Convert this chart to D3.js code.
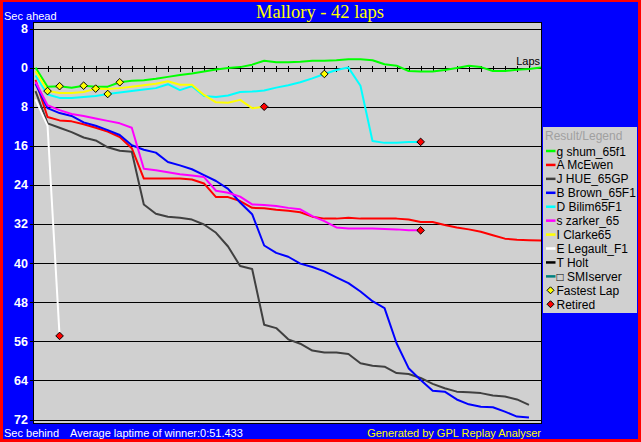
<!DOCTYPE html>
<html>
<head>
<meta charset="utf-8">
<script src="https://cdn.jsdelivr.net/npm/d3@7/dist/d3.min.js"></script>
<style>
  html, body { margin: 0; padding: 0; background: #ff0000; }
  svg { display: block; }
  text { font-family: "Liberation Sans", Arial, sans-serif; }
</style>
</head>
<body>
<svg id="chart" width="641" height="442"></svg>
<script>
// ---------- DATA ----------
const title = "Mallory - 42 laps";
const totalLaps = 42;
const yTickValues = [-8, 0, 8, 16, 24, 32, 40, 48, 56, 64, 72];
const yTickLabels = ["8", "0", "8", "16", "24", "32", "40", "48", "56", "64", "72"];

const drivers = ["g shum_65f1", "A McEwen", "J HUE_65GP", "B Brown_65F1", "D Bilim65F1",
                 "s zarker_65", "I Clarke65", "E Legault_F1", "T Holt", "\u25A1 SMIserver"];
const driverColors = ["#00ff00", "#ff0000", "#404040", "#0000ff", "#00ffff",
                      "#ff00ff", "#ffff00", "#ffffff", "#000000", "#008080"];

// seconds behind (positive = behind), one value per lap starting at lap 0
const gShum = [0, 3.9, 3.8, 4.1, 3.7, 3.9, 3.9, 3.0, 2.7, 2.6, 2.3, 1.9, 1.5, 1.2, 0.8, 0.4, 0.1, -0.1, -0.6, -1.4,
               -1.1, -1.1, -1.2, -1.4, -1.4, -1.5, -1.7, -1.7, -1.5, -0.7, -0.4, 0.7, 0.8, 0.8, 0.5, 0.1, -0.4, -0.1,
               0.7, 0.7, 0.45, 0.3, 0];
const aMcEwen = [2.5, 10.1, 10.8, 11.0, 11.6, 12.3, 13.1, 14.2, 16.5, 22.7, 22.7, 22.7, 22.7, 22.9, 23.7, 26.5, 26.5,
                 27.3, 28.7, 28.8, 29.1, 29.3, 29.6, 30.5, 30.9, 30.9, 30.7, 30.9, 30.9, 30.9, 30.9, 31.1, 31.6, 31.6,
                 32.2, 32.7, 33.1, 33.6, 34.3, 35.0, 35.2, 35.3, 35.4];
const jHue = [4.8, 11.4, 12.3, 13.2, 14.3, 14.9, 16.3, 17.0, 17.2, 28.0, 29.9, 30.5, 30.7, 31.1, 32.1, 33.8, 36.6,
              40.6, 41.2, 52.6, 53.3, 55.6, 56.5, 57.9, 58.3, 58.3, 58.6, 60.5, 61.0, 61.2, 62.5, 62.7, 63.5, 64.7,
              65.6, 66.3, 66.4, 66.6, 67.1, 67.3, 67.9, 69.0];
const bBrown = [3.3, 8.3, 9.3, 9.9, 11.2, 11.9, 12.8, 13.8, 15.9, 16.8, 17.4, 19.3, 20.0, 20.8, 22.0, 23.2, 24.8,
                27.6, 30.0, 36.4, 37.9, 38.7, 40.1, 40.8, 41.7, 42.9, 44.1, 45.8, 47.8, 49.2, 56.4, 61.5, 63.9, 66.1,
                66.3, 67.9, 68.9, 69.4, 69.5, 70.4, 71.4, 71.6];
const dBilim = [1.6, 5.5, 6.2, 6.2, 6.0, 5.8, 5.4, 5.1, 4.8, 4.5, 4.2, 3.4, 4.6, 3.8, 5.8, 6.0, 5.7, 5.0, 4.9, 4.7,
                4.1, 3.6, 3.0, 2.2, 1.3, 0.5, 0.0, 3.7, 15.0, 15.4, 15.4, 15.2, 15.2];
const sZarker = [2.9, 7.7, 8.7, 9.5, 9.9, 10.4, 10.9, 11.4, 12.3, 20.7, 21.0, 21.4, 21.8, 22.1, 22.4, 25.2, 25.6,
                 26.4, 28.0, 28.1, 28.3, 28.7, 29.0, 30.4, 31.4, 32.7, 32.9, 32.9, 32.9, 33.0, 33.1, 33.3, 33.3];
const iClarke = [0.7, 4.8, 5.2, 5.2, 5.0, 4.3, 4.4, 4.2, 3.9, 3.6, 3.3, 2.8, 3.5, 3.5, 5.6, 7.1, 7.2, 6.6, 8.3, 8.0];
const eLegault = [6.5, 11.9, 54.9];
const tHolt = [];
const smiServer = [];

const seriesValues = [gShum, aMcEwen, jHue, bBrown, dBilim, sZarker, iClarke, eLegault, tHolt, smiServer];

const fastestLapDrivers = ["I Clarke65", "g shum_65f1", "g shum_65f1", "I Clarke65", "D Bilim65F1", "g shum_65f1", "D Bilim65F1"];
const fastestLapLaps = [1, 2, 4, 5, 6, 7, 24];
const retiredDrivers = ["I Clarke65", "D Bilim65F1", "s zarker_65", "E Legault_F1"];

const bottomLeft1 = "Sec behind";
const bottomLeft2 = "Average laptime of winner:0:51.433";
const bottomRight = "Generated by GPL Replay Analyser";

// ---------- DRAW ----------
const svg = d3.select("#chart");
const W = 641, H = 442;
const plot = { left: 34, top: 22, right: 541, bottom: 423 };

svg.append("rect").attr("x", 0).attr("y", 0).attr("width", W).attr("height", H).attr("fill", "#ff0000");
svg.append("rect").attr("x", 3).attr("y", 2).attr("width", 635).attr("height", 437).attr("fill", "#0000ff");

const x = d3.scaleLinear().domain([0, totalLaps]).range([35.5, 541]);
const y = d3.scaleLinear().domain([-8, 72]).range([28.5, 419.5]);

// plot background
svg.append("rect").attr("x", plot.left).attr("y", plot.top)
  .attr("width", plot.right - plot.left).attr("height", plot.bottom - plot.top)
  .attr("fill", "#d0d0d0");

// grid lines + left ticks
const gGrid = svg.append("g").attr("shape-rendering", "crispEdges");
yTickValues.forEach((v) => {
  const yy = Math.round(y(v)) + 0.5;
  gGrid.append("line").attr("x1", 30).attr("x2", plot.right).attr("y1", yy).attr("y2", yy)
    .attr("stroke", "#000").attr("stroke-width", 1);
});
// lap ticks on zero line
const y0 = Math.round(y(0)) + 0.5;
d3.range(1, totalLaps).forEach((l) => {
  const xx = Math.round(x(l)) + 0.5;
  gGrid.append("line").attr("x1", xx).attr("x2", xx).attr("y1", y0 - 3).attr("y2", y0 + 3.5)
    .attr("stroke", "#000").attr("stroke-width", 1);
});

// plot border
svg.append("rect").attr("x", plot.left - 0.5).attr("y", plot.top + 0.5)
  .attr("width", plot.right - plot.left + 1).attr("height", plot.bottom - plot.top)
  .attr("fill", "none").attr("stroke", "#000").attr("stroke-width", 1).attr("shape-rendering", "crispEdges");

// y labels
yTickValues.forEach((v, i) => {
  svg.append("text").attr("x", 28).attr("y", y(v) + 4.4)
    .attr("text-anchor", "end").attr("fill", "#fff")
    .attr("font-size", 12.5).attr("font-weight", "bold").text(yTickLabels[i]);
});

// Laps label
svg.append("text").attr("x", 540).attr("y", 64.5).attr("text-anchor", "end")
  .attr("font-size", 11).attr("fill", "#000").text("Laps");

// series lines
const line = d3.line().x((d, i) => x(i)).y(d => y(d));
seriesValues.forEach((vals, k) => {
  if (vals.length < 2) return;
  svg.append("path").datum(vals).attr("d", line)
    .attr("fill", "none").attr("stroke", driverColors[k]).attr("stroke-width", 2)
    .attr("stroke-linejoin", "round");
});

function diamond(cx, cy, r) {
  return `M${cx},${cy - r}L${cx + r},${cy}L${cx},${cy + r}L${cx - r},${cy}Z`;
}

// fastest lap markers
fastestLapDrivers.forEach((d, i) => {
  const vals = seriesValues[drivers.indexOf(d)];
  const lap = fastestLapLaps[i];
  svg.append("path").attr("d", diamond(x(lap), y(vals[lap]), 3.8))
    .attr("fill", "#ffff00").attr("stroke", "#000").attr("stroke-width", 1);
});
// retired markers
retiredDrivers.forEach((d) => {
  const vals = seriesValues[drivers.indexOf(d)];
  const lap = vals.length - 1;
  svg.append("path").attr("d", diamond(x(lap), y(vals[lap]), 3.8))
    .attr("fill", "#ff0000").attr("stroke", "#000").attr("stroke-width", 1);
});

// title and side texts
svg.append("text").attr("x", 320).attr("y", 18).attr("text-anchor", "middle")
  .attr("fill", "#ffff00").attr("font-size", 18.5)
  .style("font-family", '"Liberation Serif", "Times New Roman", serif').text(title);
svg.append("text").attr("x", 4).attr("y", 20).attr("fill", "#fff").attr("font-size", 11).text("Sec ahead");
svg.append("text").attr("x", 4).attr("y", 436.5).attr("fill", "#fff").attr("font-size", 11).text(bottomLeft1);
svg.append("text").attr("x", 70).attr("y", 436.5).attr("fill", "#fff").attr("font-size", 11).text(bottomLeft2);
svg.append("text").attr("x", 541).attr("y", 436.5).attr("text-anchor", "end")
  .attr("fill", "#ffff00").attr("font-size", 11).text(bottomRight);

// legend
const lg = svg.append("g");
lg.append("rect").attr("x", 543).attr("y", 127).attr("width", 94).attr("height", 186).attr("fill", "#d0d0d0");
lg.append("text").attr("x", 545).attr("y", 140).attr("fill", "#a0a0a0").attr("font-size", 12).text("Result/Legend");
const step = 13.93;
drivers.forEach((d, i) => {
  const cy = 151 + i * step;
  lg.append("line").attr("x1", 546).attr("x2", 555.5).attr("y1", cy).attr("y2", cy)
    .attr("stroke", driverColors[i]).attr("stroke-width", 2.5);
  lg.append("text").attr("x", 556.5).attr("y", cy + 4.5).attr("fill", "#000").attr("font-size", 12).text(d);
});
const fy = 151 + drivers.length * step;
lg.append("path").attr("d", diamond(550.5, fy, 3.5)).attr("fill", "#ffff00").attr("stroke", "#000").attr("stroke-width", 1);
lg.append("text").attr("x", 556.5).attr("y", fy + 4.5).attr("fill", "#000").attr("font-size", 12).text("Fastest Lap");
const ry = 151 + (drivers.length + 1) * step;
lg.append("path").attr("d", diamond(550.5, ry, 3.5)).attr("fill", "#ff0000").attr("stroke", "#000").attr("stroke-width", 1);
lg.append("text").attr("x", 556.5).attr("y", ry + 4.5).attr("fill", "#000").attr("font-size", 12).text("Retired");
</script>
</body>
</html>
